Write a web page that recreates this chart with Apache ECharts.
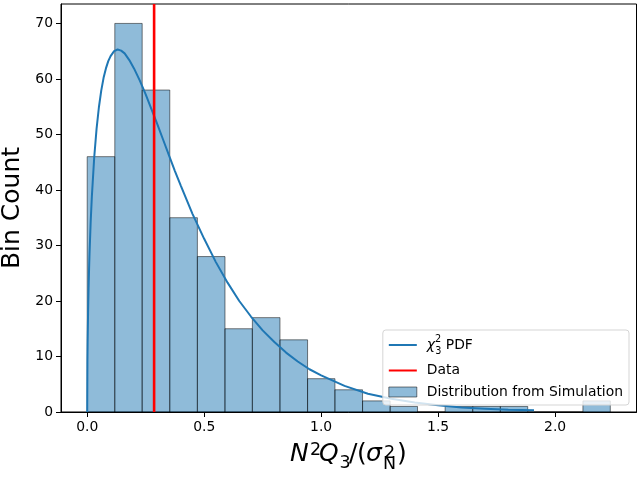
<!DOCTYPE html>
<html>
<head>
<meta charset="utf-8">
<script src="https://cdn.jsdelivr.net/npm/echarts@6/dist/echarts.min.js"></script>
<style>html,body{margin:0;padding:0;background:#fff;}#c{width:640px;height:480px;}</style>
</head>
<body>
<div id="c"></div>
<script>
// Histogram bin edges and counts
const binEdges = [0, 0.118, 0.235, 0.353, 0.471, 0.589, 0.706, 0.824, 0.942, 1.059, 1.177, 1.295, 1.412, 1.530, 1.648, 1.766, 1.883, 2.001, 2.119, 2.236];
const binCounts = [46, 70, 58, 35, 28, 15, 17, 13, 6, 4, 2, 1, 0, 1, 1, 1, 0, 0, 2];
// chi-squared PDF curve
const curveX = [0, 0.001, 0.002, 0.004, 0.006, 0.008, 0.01, 0.015, 0.02, 0.03, 0.04, 0.05, 0.06, 0.07, 0.08, 0.09, 0.1, 0.115, 0.13, 0.145, 0.16, 0.18, 0.2, 0.225, 0.25, 0.275, 0.3, 0.325, 0.35, 0.375, 0.4, 0.45, 0.5, 0.55, 0.6, 0.65, 0.7, 0.75, 0.8, 0.85, 0.9, 0.95, 1.0, 1.1, 1.2, 1.3, 1.4, 1.5, 1.6, 1.7, 1.8, 1.91];
const curveY = [0, 9.4, 13.2, 18.5, 22.5, 25.8, 28.6, 34.4, 38.9, 45.9, 51.0, 54.9, 57.9, 60.2, 61.9, 63.2, 64.1, 65.0, 65.3, 65.1, 64.6, 63.4, 61.9, 59.7, 57.2, 54.5, 51.8, 49.0, 46.2, 43.4, 40.8, 35.7, 31.2, 27.0, 23.3, 20.0, 17.2, 14.7, 12.6, 10.7, 9.1, 7.7, 6.6, 4.7, 3.3, 2.4, 1.7, 1.2, 0.8, 0.6, 0.4, 0.3];
// Observed data value
const dataValue = 0.286;
// Axes
const xTicks = [0, 0.5, 1.0, 1.5, 2.0];
const yTicks = [0, 10, 20, 30, 40, 50, 60, 70];
const xRange = [-0.112, 2.348];
const yRange = [0, 73.5];

const FONT = 'DejaVu Sans';
const histData = binCounts.map((c, i) => [binEdges[i], binEdges[i + 1], c]);
const curveData = curveX.map((x, i) => [x, curveY[i]]);

const chart = echarts.init(document.getElementById('c'), null, {renderer: 'canvas'});

function t(text, x, baseline, size, italic) {
  return {
    type: 'text',
    style: {
      text: text, x: x, y: baseline - 0.33 * size,
      font: (italic ? 'italic ' : '') + size + 'px "' + FONT + '"',
      fill: '#000', textAlign: 'left', textVerticalAlign: 'middle'
    }
  };
}

chart.setOption({
  animation: false,
  backgroundColor: '#fff',
  grid: {left: 61, right: 3.5, top: 4, bottom: 68, show: true, borderColor: '#000', borderWidth: 1,
    containLabel: false, outerBoundsMode: 'none'},
  xAxis: {
    type: 'value', min: xRange[0], max: xRange[1],
    axisLine: {show: true, onZero: false, lineStyle: {color: '#000', width: 1}},
    axisTick: {show: true, length: 5, lineStyle: {color: '#000'}, customValues: xTicks},
    axisLabel: {color: '#000', fontFamily: FONT, fontSize: 13.9, margin: 8, customValues: xTicks,
      formatter: v => v.toFixed(1)},
    splitLine: {show: false}
  },
  yAxis: {
    type: 'value', min: yRange[0], max: yRange[1],
    name: 'Bin Count', nameLocation: 'middle', nameRotate: 90, nameGap: 36, nameMoveOverlap: false,
    nameTextStyle: {fontFamily: FONT, fontSize: 25, color: '#000'},
    axisLine: {show: true, onZero: false, lineStyle: {color: '#000', width: 1}},
    axisTick: {show: true, length: 5, lineStyle: {color: '#000'}, customValues: yTicks},
    axisLabel: {color: '#000', fontFamily: FONT, fontSize: 13.9, margin: 8, customValues: yTicks,
      formatter: v => String(Math.round(v))},
    splitLine: {show: false}
  },
  legend: {
    orient: 'vertical', right: 11, bottom: 75,
    padding: [3, 6, 5, 5], itemGap: 5.5, itemWidth: 28, itemHeight: 10,
    backgroundColor: 'rgba(255,255,255,0.8)', borderColor: '#d5d5d5', borderWidth: 1, borderRadius: 3,
    textStyle: {fontFamily: FONT, fontSize: 13.9, color: '#000', lineHeight: 16, padding: [0, 0, 0, 5],
      rich: {
        c: {fontFamily: FONT, fontSize: 13.9, fontStyle: 'italic', lineHeight: 24, color: '#000'},
        sup: {fontFamily: FONT, fontSize: 9.7, verticalAlign: 'top', lineHeight: 12, padding: [1, 0, 0, 0], color: '#000'},
        sub: {fontFamily: FONT, fontSize: 9.7, verticalAlign: 'bottom', lineHeight: 12, padding: [0, 0, 1, -6], color: '#000'},
        n: {fontFamily: FONT, fontSize: 13.9, lineHeight: 24, color: '#000'}
      }
    },
    formatter: name => name === 'chi' ? '{c|χ}{sup|2}{sub|3}{n| PDF}' : name,
    data: [
      {name: 'chi', itemStyle: {opacity: 0, color: 'rgba(0,0,0,0)', borderWidth: 0}},
      {name: 'Data', itemStyle: {opacity: 0, color: 'rgba(0,0,0,0)', borderWidth: 0}},
      {name: 'Distribution from Simulation', icon: 'rect',
        itemStyle: {color: 'rgba(31,119,180,0.5)', borderColor: 'rgba(0,0,0,0.5)', borderWidth: 1}}
    ]
  },
  graphic: [
    t('N', 290, 463, 25, true),
    t('2', 310, 456, 17.5, false),
    t('Q', 319, 463, 25, true),
    t('3', 339.5, 469, 17.5, false),
    t('/', 349, 463, 25, false),
    t('(', 357, 463, 25, false),
    t('σ', 366, 463, 25, true),
    t('2', 384, 459, 17.5, false),
    t('N', 383, 470, 17.5, false),
    t(')', 397, 463, 25, false)
  ],
  series: [
    {
      name: 'Distribution from Simulation', type: 'custom', z: 1,
      itemStyle: {color: 'rgba(31,119,180,0.5)', borderColor: 'rgba(0,0,0,0.5)', borderWidth: 1},
      encode: {x: [0, 1], y: 2},
      data: histData,
      renderItem: function (params, api) {
        const p0 = api.coord([api.value(0), api.value(2)]);
        const p1 = api.coord([api.value(1), 0]);
        return {
          type: 'rect',
          shape: {x: p0[0], y: p0[1], width: p1[0] - p0[0], height: p1[1] - p0[1]},
          style: {fill: 'rgba(31,119,180,0.5)', stroke: 'rgba(0,0,0,0.5)', lineWidth: 1}
        };
      }
    },
    {
      name: 'chi', type: 'line', z: 3, symbol: 'none', smooth: false,
      lineStyle: {color: '#1f77b4', width: 2}, itemStyle: {color: '#1f77b4'},
      data: curveData
    },
    {
      name: 'Data', type: 'line', z: 4, symbol: 'none',
      lineStyle: {color: '#ff0000', width: 2.6}, itemStyle: {color: '#ff0000'},
      data: [[dataValue, yRange[0]], [dataValue, yRange[1]]]
    }
  ]
});
</script>
</body>
</html>
